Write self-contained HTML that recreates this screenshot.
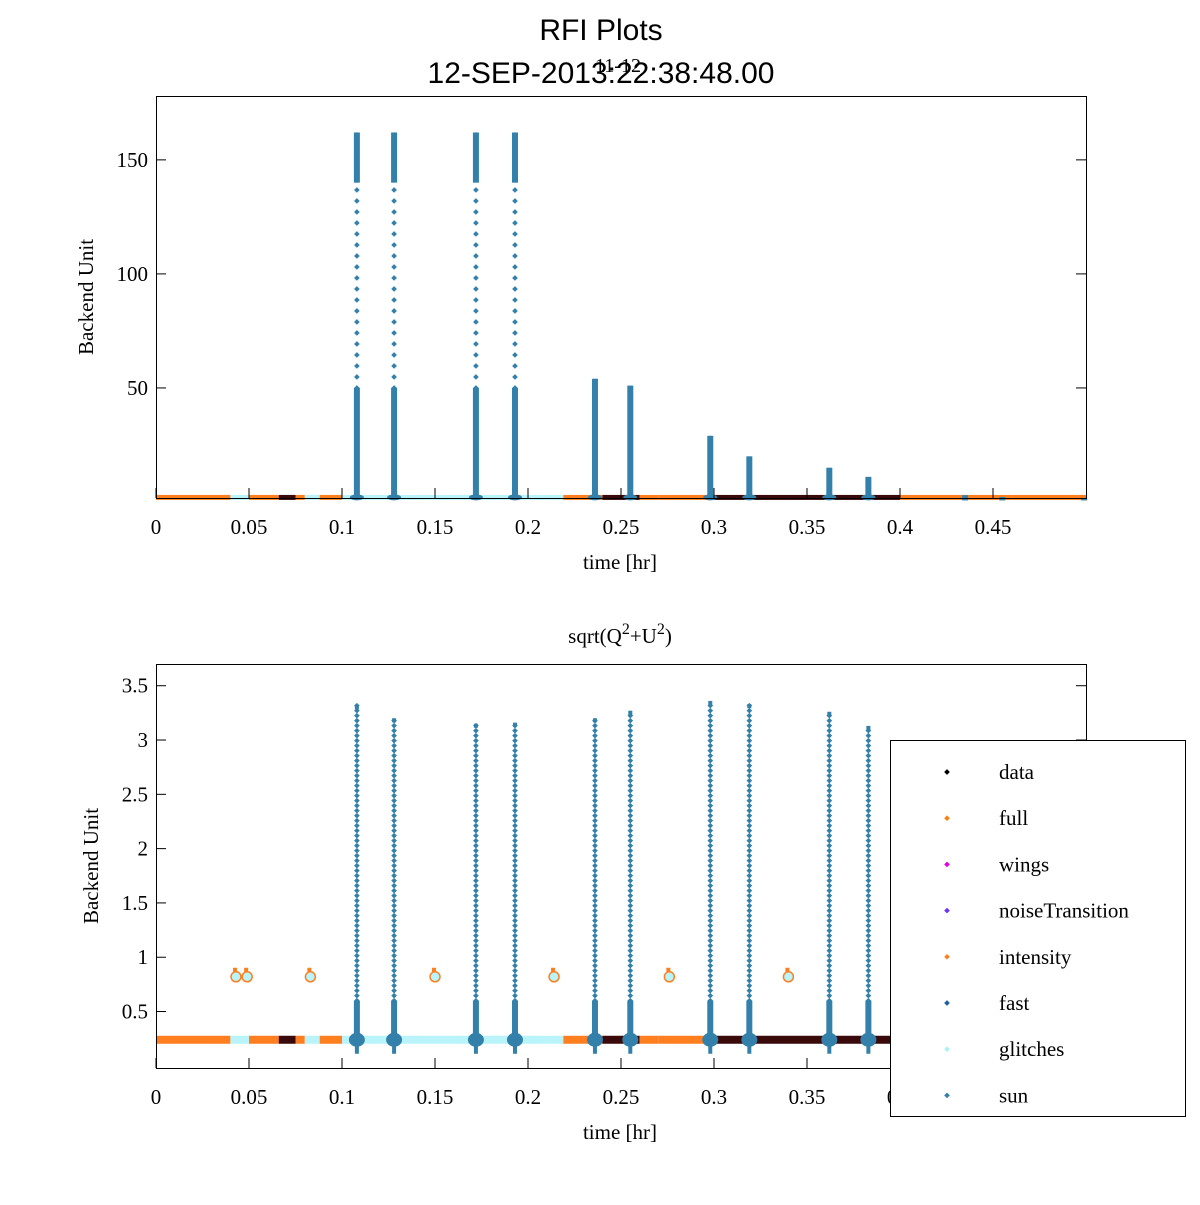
<!DOCTYPE html>
<html><head><meta charset="utf-8"><style>
body{margin:0;background:#fff}
svg text{font-family:"Liberation Serif",serif}
</style></head><body>
<svg id="c" width="1200" height="1200" xmlns="http://www.w3.org/2000/svg">
<rect width="1200" height="1200" fill="#fff"/>
<text x="601" y="40" font-size="30" text-anchor="middle" style="font-family:'Liberation Sans',sans-serif">RFI Plots</text>
<text x="601" y="83" font-size="30" text-anchor="middle" style="font-family:'Liberation Sans',sans-serif">12-SEP-2013:22:38:48.00</text>
<text x="618" y="72" font-size="20" text-anchor="middle">11-12</text>
<text x="620" y="643" font-size="21" text-anchor="middle">sqrt(Q<tspan dy="-9" font-size="16">2</tspan><tspan dy="9">+U</tspan><tspan dy="-9" font-size="16">2</tspan><tspan dy="9">)</tspan></text>
<g id="top"></g>
<g id="bot"></g>
<g>
<rect x="890.5" y="740.5" width="295" height="376" fill="#fff" stroke="#000"/>
<g id="leg"></g>
</g>
</svg>
<script>
const xTicks=[0,0.05,0.1,0.15,0.2,0.25,0.3,0.35,0.4,0.45];
const topYTicks=[50,100,150];
const botYTicks=[0.5,1,1.5,2,2.5,3,3.5];
const spikeTimes=[0.108,0.128,0.172,0.193,0.236,0.255,0.298,0.319,0.362,0.383];
const topSpikeVals=[162,162,162,162,54,51,29,20,15,11];
const topSmallTimes=[0.435,0.455,0.499];
const topSmallVals=[3,2.2,1.8];
const botSpikeVals=[3.32,3.2,3.15,3.16,3.2,3.27,3.36,3.33,3.26,3.13];
const outlierTimes=[0.043,0.049,0.083,0.15,0.214,0.276,0.34];
const outlierVals=[0.82,0.82,0.82,0.82,0.82,0.82,0.82];
const topBase=2, botBase=0.24;
const legendNames=["data","full","wings","noiseTransition","intensity","fast","glitches","sun"];
const legendColors=["#000","#ff7f0e","#e000e0","#7030ff","#ff7f20","#1f5fa0","#b0f0f8","#3380aa"];
const baseSegT=[0,0.04,0.05,0.066,0.075,0.08,0.088,0.1,0.21,0.219,0.24,0.26,0.27,0.3,0.4,0.46,0.5];
const baseSegC=[1,6,1,0,1,6,1,6,6,1,0,1,1,0,1,1];
const NS="http://www.w3.org/2000/svg";
function el(p,t,a){const e=document.createElementNS(NS,t);for(const k in a)e.setAttribute(k,a[k]);p.appendChild(e);return e;}
function panel(g,top,bot,ymin,ymax,yT,spV,base,isTop){
 const L=156,R=1086;
 const X=v=>L+(R-L)*v/0.5, Y=v=>bot-(bot-top)*(v-ymin)/(ymax-ymin);
 const h=isTop?5:8;
 for(let i=0;i<baseSegC.length;i++){
  const r=el(g,'rect',{x:X(baseSegT[i]),y:Y(base)-h/2,width:X(baseSegT[i+1])-X(baseSegT[i]),height:h,fill:[ "#3a0a0a","#ff7f20"][baseSegC[i]]||"#b8f4fa"});
  
  
 }
 const sy=Y(base);
 spikeTimes.forEach((t,i)=>{
  const v=spV[i], x=X(t), yv=Y(v);
  const s=el(g,'g',{fill:"#3380aa"});
  
  
  let dense= isTop ? (v>100? Y(50):yv) : Y(Math.min(v,0.6));
  el(s,'rect',{x:x-3,y:dense,width:6,height:sy-dense+2});
  if(!isTop){el(s,'ellipse',{cx:x,cy:sy,rx:8,ry:7});el(s,'rect',{x:x-2,y:sy,width:4,height:14});}
  else el(s,'ellipse',{cx:x,cy:sy,rx:7,ry:3});
  if(isTop && v>100){el(s,'rect',{x:x-3,y:yv,width:6,height:Y(140)-yv});}
  const step=isTop?11:5;
  for(let y=dense;y>yv;y-=step){el(s,'rect',{x:x-2,y:y-2,width:4,height:4,transform:`rotate(45 ${x} ${y})`});}
  el(s,'rect',{x:x-2,y:yv,width:4,height:4});
 });
 if(isTop) topSmallTimes.forEach((t,i)=>{const x=X(t);const r=el(g,'rect',{x:x-3,y:Y(topSmallVals[i]),width:6,height:sy-Y(topSmallVals[i])+3,fill:"#3380aa"});
  });
 else outlierTimes.forEach((t,i)=>{const x=X(t),y=Y(outlierVals[i]);
  const o=el(g,'g',{});
  el(o,'circle',{cx:x,cy:y,r:5,fill:"#b8f4fa",stroke:"#ff7f20","stroke-width":1.5});
  el(o,'rect',{x:x-3,y:y-9,width:4,height:4,fill:"#ff7f20"});});
 const b=el(g,'rect',{x:L+.5,y:top+.5,width:R-L,height:bot-top,fill:"none",stroke:"#000"});
 
 xTicks.forEach(v=>{const x=X(v);el(g,'line',{x1:x,x2:x,y1:bot,y2:bot-10,stroke:"#000"});
  const t=el(g,'text',{x:x,y:bot+36,'font-size':21,'text-anchor':'middle'});t.textContent=v;
  });
 yT.forEach(v=>{const y=Y(v);el(g,'line',{x1:L,x2:L+10,y1:y,y2:y,stroke:"#000"});el(g,'line',{x1:R-10,x2:R,y1:y,y2:y,stroke:"#000"});
  const t=el(g,'text',{x:L-8,y:y+7,'font-size':21,'text-anchor':'end'});t.textContent=v;
  });
 const xl=el(g,'text',{x:620,y:bot+71,'font-size':21,'text-anchor':'middle'});xl.textContent="time [hr]";
 
 const cy=(top+bot)/2;
 const yl=el(g,'text',{x:0,y:0,'font-size':21,'text-anchor':'middle',transform:`translate(${isTop?93:98},${cy}) rotate(-90)`});yl.textContent="Backend Unit";
 
}
panel(document.getElementById('top'),96,498,1.75,178,topYTicks,topSpikeVals,topBase,true);
panel(document.getElementById('bot'),664,1068,-0.02,3.7,botYTicks,botSpikeVals,botBase,false);
const leg=document.getElementById('leg');
legendNames.forEach((n,i)=>{const y=772+i*46.2;
 const e=el(leg,'g',{});
 el(e,'rect',{x:945,y:y-2,width:4,height:4,fill:legendColors[i],transform:`rotate(45 947 ${y})`});
 const t=el(e,'text',{x:999,y:y+7,'font-size':21});t.textContent=n;});
</script>
</body></html>
